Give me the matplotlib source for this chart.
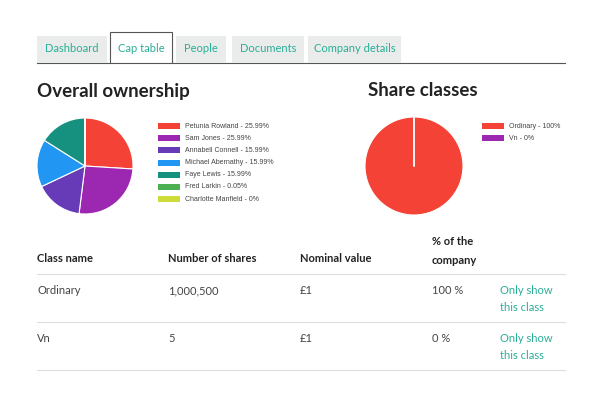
import matplotlib
matplotlib.use("Agg")
import matplotlib.pyplot as plt
from matplotlib.patches import Rectangle
from matplotlib.lines import Line2D

plt.rcParams["font.family"] = "Lato"

owners = ["Petunia Rowland", "Sam Jones", "Annabell Connell", "Michael Abernathy",
          "Faye Lewis", "Fred Larkin", "Charlotte Manfield"]
owner_pct = [25.99, 25.99, 15.99, 15.99, 15.99, 0.05, 0]
owner_labels = ["25.99%", "25.99%", "15.99%", "15.99%", "15.99%", "0.05%", "0%"]
owner_colors = ["#F44336", "#9C27B0", "#673AB7", "#2196F3", "#16917F", "#4CAF50", "#CDDC39"]

classes = ["Ordinary", "Vn"]
class_pct = [100, 0]
class_labels = ["100%", "0%"]
class_colors = ["#F44336", "#9C27B0"]

tabs = ["Dashboard", "Cap table", "People", "Documents", "Company details"]
tab_x = [(37, 107), (110, 172), (176, 226), (232, 304), (308, 401)]

headers = ["Class name", "Number of shares", "Nominal value", "% of the\ncompany"]
rows = [["Ordinary", "1,000,500", "£1", "100 %"], ["Vn", "5", "£1", "0 %"]]
col_x = [37, 168, 300, 432]

W, H = 600, 400
fig = plt.figure(figsize=(6, 4), dpi=100)
fig.patch.set_facecolor("white")

def fy(y): return 1 - y / H
def fx(x): return x / W
def txt(x, y, s, **kw):
    fig.text(fx(x), fy(y), s, **kw)

teal = "#2AAE96"
for name, (x0, x1) in zip(tabs, tab_x):
    active = name == "Cap table"
    top = 32 if active else 36
    fc = "white" if active else "#E9ECEB"
    ec = "#555555" if active else "none"
    fig.patches.append(Rectangle((fx(x0), fy(63)), fx(x1 - x0), (63 - top) / H,
                                 transform=fig.transFigure, fc=fc, ec=ec, lw=0.8, zorder=2))
    txt((x0 + x1) / 2, 48, name, ha="center", va="center", fontsize=8, color=teal, zorder=3)
fig.add_artist(Line2D([fx(37), fx(110)], [fy(63), fy(63)], color="#555555", lw=0.8))
fig.add_artist(Line2D([fx(172), fx(565)], [fy(63), fy(63)], color="#555555", lw=0.8))

txt(37, 91, "Overall ownership", fontsize=13.5, fontweight="bold", va="center", color="#222222")
txt(368, 91, "Share classes", fontsize=13.5, fontweight="bold", va="center", color="#222222")

def pie_axes(x, y, r, vals, cols, line=False):
    ax = fig.add_axes([fx(x - r), fy(y + r), 2 * r / W, 2 * r / H])
    ax.pie(vals, colors=cols, startangle=90, counterclock=False, radius=1,
           wedgeprops=dict(edgecolor="white", linewidth=0.8))
    if line:
        ax.plot([0, 0], [0, 1], color="white", lw=1.2)
    ax.set_xlim(-1, 1)
    ax.set_ylim(-1, 1)
    ax.set_aspect("equal")
    ax.axis("off")

pie_axes(85, 166, 48, owner_pct, owner_colors)
pie_axes(414, 166, 49, class_pct, class_colors, line=True)

def legend(x, y0, names, labels, colors):
    for i, (n, l, c) in enumerate(zip(names, labels, colors)):
        y = y0 + i * 12.2
        fig.patches.append(Rectangle((fx(x), fy(y + 3)), 22 / W, 6 / H,
                                     transform=fig.transFigure, fc=c, ec="none"))
        txt(x + 27, y, f"{n} - {l}", fontsize=5, va="center", color="#444444",
            family="Liberation Sans")

legend(158, 126, owners, owner_labels, owner_colors)
legend(482, 126, classes, class_labels, class_colors)

for h, x in zip(headers, col_x):
    txt(x, 258 if "\n" not in h else 251, h, fontsize=8, fontweight="bold",
        va="center", color="#222222", linespacing=1.8)
for y in [274, 322, 370]:
    fig.add_artist(Line2D([fx(37), fx(565)], [fy(y), fy(y)], color="#DDDDDD", lw=0.8))
for r, y in zip(rows, [291, 339]):
    for v, x in zip(r, col_x):
        txt(x, y, v, fontsize=8, va="center", color="#444444")
    txt(500, y + 8, "Only show\nthis class", fontsize=8, va="center", color=teal,
        linespacing=1.6)

fig.savefig("out.png", dpi=100, facecolor="white")
